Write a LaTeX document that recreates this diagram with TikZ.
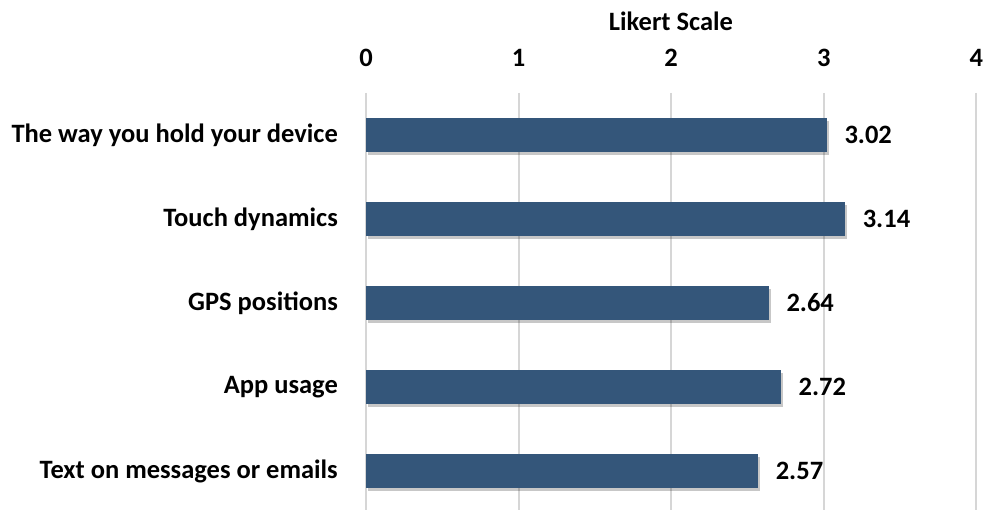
\documentclass[tikz,border=0pt]{standalone}
\usepackage{fontspec}
\setmainfont{Carlito}
\usepackage{tikz}
\usetikzlibrary{positioning}

\definecolor{barblue}{RGB}{52,86,122}
\definecolor{gridgray}{RGB}{214,214,214}

\tikzset{
  bar/.style={fill=barblue, inner sep=0pt, minimum height=34pt, anchor=west},
  barshadow/.style={fill=black, opacity=0.22, inner sep=0pt, minimum height=34pt, anchor=west},
  cat/.style={font=\bfseries\fontsize{26.5}{30}\selectfont, anchor=east, inner sep=0pt},
  val/.style={font=\bfseries\fontsize{26.5}{30}\selectfont, anchor=west, inner sep=0pt},
  tick/.style={font=\bfseries\fontsize{26.5}{30}\selectfont, inner sep=0pt},
  grid/.style={draw=gridgray, line width=2pt}
}

\begin{document}
\begin{tikzpicture}[x=1pt, y=-1pt]

        \useasboundingbox (0,0) rectangle (986,510);

        % axis ticks and title
        \node at (671,21) [tick] (title) {Likert Scale};
        \node at (366,58) [tick] (t0) {0};
        \node at (518.6,58) [tick] (t1) {1};
        \node at (671.2,58) [tick] (t2) {2};
        \node at (823.8,58) [tick] (t3) {3};
        \node at (976.4,58) [tick] (t4) {4};

        % gridlines
        \coordinate (g0a) at (366,93);   \coordinate (g0b) at (366,510);
        \coordinate (g1a) at (518.6,93); \coordinate (g1b) at (518.6,510);
        \coordinate (g2a) at (671.2,93); \coordinate (g2b) at (671.2,510);
        \coordinate (g3a) at (823.8,93); \coordinate (g3b) at (823.8,510);
        \coordinate (g4a) at (976.4,93); \coordinate (g4b) at (976.4,510);
        \draw[grid] (g0a) -- (g0b);
        \draw[grid] (g1a) -- (g1b);
        \draw[grid] (g2a) -- (g2b);
        \draw[grid] (g3a) -- (g3b);
        \draw[grid] (g4a) -- (g4b);

        % shadows
        \node at (368,138) [barshadow, minimum width=460.9pt] {};
        \node at (368,222) [barshadow, minimum width=479.2pt] {};
        \node at (368,306) [barshadow, minimum width=402.9pt] {};
        \node at (368,390) [barshadow, minimum width=415.1pt] {};
        \node at (368,474) [barshadow, minimum width=392.2pt] {};

        % bars
        \node at (366,135) [bar, minimum width=460.9pt] (hold) {};
        \node at (366,219) [bar, minimum width=479.2pt] (touch) {};
        \node at (366,303) [bar, minimum width=402.9pt] (gps) {};
        \node at (366,387) [bar, minimum width=415.1pt] (app) {};
        \node at (366,471) [bar, minimum width=392.2pt] (text) {};

        % categories
        \node [cat, left=28pt of hold] (holdl) {The way you hold your device};
        \node [cat, left=28pt of touch] (touchl) {Touch dynamics};
        \node [cat, left=28pt of gps] (gpsl) {GPS positions};
        \node [cat, left=28pt of app] (appl) {App usage};
        \node [cat, left=28pt of text] (textl) {Text on messages or emails};

        % values
        \node [val, right=17pt of hold] (holdv) {3.02};
        \node [val, right=17pt of touch] (touchv) {3.14};
        \node [val, right=17pt of gps] (gpsv) {2.64};
        \node [val, right=17pt of app] (appv) {2.72};
        \node [val, right=17pt of text] (textv) {2.57};

      \end{tikzpicture}
\end{document}
